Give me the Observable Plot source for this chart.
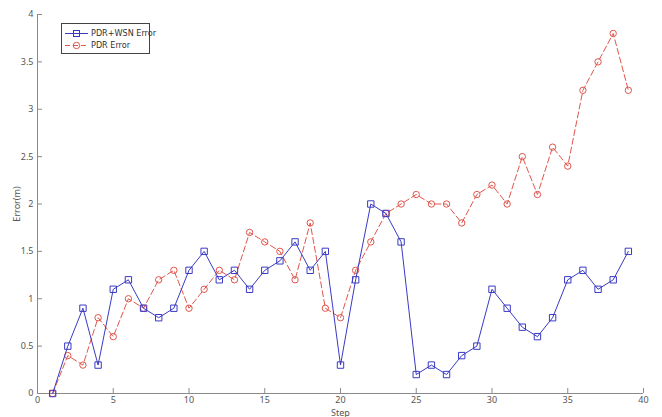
<!DOCTYPE html>
<html>
<head>
<meta charset="utf-8">
<script src="https://cdn.jsdelivr.net/npm/d3@7"></script>
<script src="https://cdn.jsdelivr.net/npm/@observablehq/plot@0.6"></script>
<style>
  html, body { margin: 0; padding: 0; background: #fff; }
  #wrap { position: relative; width: 662px; height: 417px; overflow: hidden; }
  #wrap, #legend { font-family: "Liberation Sans Narrow", "DejaVu Sans Condensed", "Liberation Sans", sans-serif; }
  #legend {
    position: absolute; left: 61px; top: 23px; width: 87px; height: 29px;
    border: 1px solid #444; background: #fff; font-size: 9px; color: #333;
  }
  .entry { position: absolute; left: 3px; height: 12px; display: flex; align-items: center; white-space: nowrap; }
  .entry svg { margin-right: 2px; }
</style>
</head>
<body>
<div id="wrap"></div>
<script>
// Data
const steps = [1,2,3,4,5,6,7,8,9,10,11,12,13,14,15,16,17,18,19,20,21,22,23,24,25,26,27,28,29,30,31,32,33,34,35,36,37,38,39];
const pdrWsnError = [0,0.5,0.9,0.3,1.1,1.2,0.9,0.8,0.9,1.3,1.5,1.2,1.3,1.1,1.3,1.4,1.6,1.3,1.5,0.3,1.2,2.0,1.9,1.6,0.2,0.3,0.2,0.4,0.5,1.1,0.9,0.7,0.6,0.8,1.2,1.3,1.1,1.2,1.5];
const pdrError = [0,0.4,0.3,0.8,0.6,1.0,0.9,1.2,1.3,0.9,1.1,1.3,1.2,1.7,1.6,1.5,1.2,1.8,0.9,0.8,1.3,1.6,1.9,2.0,2.1,2.0,2.0,1.8,2.1,2.2,2.0,2.5,2.1,2.6,2.4,3.2,3.5,3.8,3.2];
const seriesNames = ["PDR+WSN Error", "PDR Error"];
const xTicks = [0,5,10,15,20,25,30,35,40];
const yTicks = [0,0.5,1,1.5,2,2.5,3,3.5,4];
const xLabel = "Step";
const yLabel = "Error(m)";

const blue = "#3a3ac4";
const red = "#e0554c";
const axisColor = "#8a8a8a";
const textColor = "#555";

const wsn = steps.map((s, i) => ({step: s, err: pdrWsnError[i]}));
const pdr = steps.map((s, i) => ({step: s, err: pdrError[i]}));

const chart = Plot.plot({
  width: 662,
  height: 417,
  marginLeft: 37,
  marginRight: 19,
  marginTop: 14,
  marginBottom: 24,
  style: {fontSize: "9px", color: textColor, background: "#fff"},
  x: {domain: [0, 40]},
  y: {domain: [0, 4]},
  marks: [
    // axis lines
    Plot.ruleX([0], {stroke: axisColor}),
    Plot.ruleY([0], {stroke: axisColor}),
    // inward ticks
    Plot.axisY(yTicks, {tickSize: 5, dx: 5, fill: "none", stroke: axisColor, label: null}),
    Plot.axisX(xTicks, {tickSize: 5, dy: -5, fill: "none", stroke: axisColor, label: null}),
    // tick labels and axis titles
    Plot.axisY(yTicks, {tickSize: 0, tickPadding: 4, fill: textColor, tickFormat: d => String(d),
      label: yLabel, labelAnchor: "center", labelArrow: "none", labelOffset: 24}),
    Plot.axisX(xTicks, {tickSize: 0, tickPadding: 3, fill: textColor, tickFormat: d => String(d),
      label: xLabel, labelAnchor: "center", labelArrow: "none", labelOffset: 22}),
    // PDR Error (red dashed, circles)
    Plot.line(pdr, {x: "step", y: "err", stroke: red, strokeWidth: 1, strokeDasharray: "6,3"}),
    Plot.dot(pdr, {x: "step", y: "err", stroke: red, fill: "none", r: 3.2, strokeWidth: 1}),
    // PDR+WSN Error (blue solid, squares)
    Plot.line(wsn, {x: "step", y: "err", stroke: blue, strokeWidth: 1}),
    Plot.dot(wsn, {x: "step", y: "err", stroke: blue, fill: "none", symbol: "square", r: 3.6, strokeWidth: 1})
  ]
});
document.getElementById("wrap").appendChild(chart);

// Legend
const legend = document.createElement("div");
legend.id = "legend";
const styles = [
  {color: blue, dash: null, shape: "square"},
  {color: red, dash: "5,3", shape: "circle"}
];
seriesNames.forEach((name, i) => {
  const st = styles[i];
  const e = document.createElement("div");
  e.className = "entry";
  e.style.top = (3 + i * 12) + "px";
  const marker = st.shape === "square"
    ? `<rect x="8.5" y="2.5" width="6" height="6" fill="none" stroke="${st.color}"/>`
    : `<circle cx="11.5" cy="5.5" r="3.2" fill="none" stroke="${st.color}"/>`;
  e.innerHTML = `<svg width="24" height="11"><line x1="0" y1="5.5" x2="23" y2="5.5" stroke="${st.color}" ${st.dash ? `stroke-dasharray="${st.dash}"` : ""}/>${marker}</svg><span>${name}</span>`;
  legend.appendChild(e);
});
document.getElementById("wrap").appendChild(legend);
</script>
</body>
</html>
